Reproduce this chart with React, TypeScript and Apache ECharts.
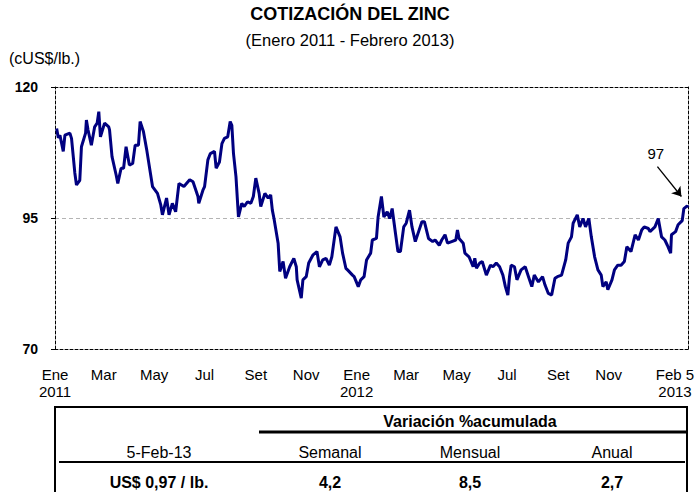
import React, { useEffect, useRef } from "react";
import * as echarts from "echarts";

const FONT = "'Liberation Sans', Arial, sans-serif";

const dates = [
  "2011-01-03","2011-01-05","2011-01-07","2011-01-11","2011-01-13","2011-01-19","2011-01-21","2011-01-25","2011-01-27","2011-01-31",
  "2011-02-02","2011-02-07","2011-02-08","2011-02-10","2011-02-14","2011-02-18","2011-02-21","2011-02-23","2011-02-25","2011-03-02",
  "2011-03-07","2011-03-08","2011-03-11","2011-03-16","2011-03-18","2011-03-22","2011-03-25","2011-03-28","2011-04-01","2011-04-05",
  "2011-04-08","2011-04-12","2011-04-14","2011-04-18","2011-04-22","2011-04-29","2011-05-05","2011-05-09","2011-05-11","2011-05-16",
  "2011-05-19","2011-05-23","2011-05-27","2011-05-31","2011-06-06","2011-06-13","2011-06-17","2011-06-23","2011-06-24","2011-06-29",
  "2011-07-01","2011-07-05","2011-07-08","2011-07-13","2011-07-15","2011-07-19","2011-07-22","2011-07-25","2011-07-29","2011-08-01",
  "2011-08-03","2011-08-05","2011-08-08","2011-08-11","2011-08-15","2011-08-18","2011-08-22","2011-08-26","2011-08-29","2011-09-01",
  "2011-09-05","2011-09-07","2011-09-12","2011-09-16","2011-09-19","2011-09-21","2011-09-23","2011-09-28","2011-09-30","2011-10-04",
  "2011-10-07","2011-10-12","2011-10-17","2011-10-20","2011-10-21","2011-10-26","2011-10-28","2011-11-01","2011-11-04","2011-11-09",
  "2011-11-14","2011-11-17","2011-11-21","2011-11-25","2011-11-29","2011-12-02","2011-12-07","2011-12-12","2011-12-15","2011-12-19",
  "2011-12-21","2011-12-27","2011-12-29","2012-01-03","2012-01-06","2012-01-10","2012-01-13","2012-01-18","2012-01-20","2012-01-25",
  "2012-01-27","2012-01-31","2012-02-03","2012-02-07","2012-02-10","2012-02-13","2012-02-17","2012-02-20","2012-02-23","2012-02-27",
  "2012-03-01","2012-03-05","2012-03-08","2012-03-12","2012-03-16","2012-03-20","2012-03-23","2012-03-28","2012-04-02","2012-04-05",
  "2012-04-10","2012-04-13","2012-04-17","2012-04-20","2012-04-25","2012-04-30","2012-05-02","2012-05-04","2012-05-09","2012-05-11",
  "2012-05-16","2012-05-21","2012-05-23","2012-05-25","2012-05-29","2012-06-01","2012-06-06","2012-06-11","2012-06-14","2012-06-18",
  "2012-06-22","2012-06-26","2012-06-29","2012-07-02","2012-07-04","2012-07-06","2012-07-10","2012-07-13","2012-07-18","2012-07-23",
  "2012-07-27","2012-07-31","2012-08-03","2012-08-08","2012-08-13","2012-08-16","2012-08-20","2012-08-24","2012-08-28","2012-08-31",
  "2012-09-05","2012-09-10","2012-09-13","2012-09-17","2012-09-19","2012-09-24","2012-09-27","2012-10-01","2012-10-04","2012-10-08",
  "2012-10-11","2012-10-15","2012-10-19","2012-10-23","2012-10-25","2012-10-29","2012-10-31","2012-11-05","2012-11-08","2012-11-12",
  "2012-11-16","2012-11-20","2012-11-23","2012-11-28","2012-12-03","2012-12-07","2012-12-11","2012-12-14","2012-12-19","2012-12-21",
  "2012-12-27","2012-12-31","2013-01-04","2013-01-08","2013-01-11","2013-01-15","2013-01-16","2013-01-21","2013-01-24","2013-01-29",
  "2013-01-31","2013-02-04","2013-02-05"
];

const values = [
  112.1,110.3,110.8,107.7,110.8,111.2,110.2,103.6,101.3,102.2,
  108.6,111.2,113.7,111.8,108.9,112.4,113.1,115.3,110.5,113.1,
  112.4,111.8,106.7,103.2,101.6,104.5,104.5,108.6,105.1,105.4,
  108.9,108.9,113.4,111.5,108.0,101.0,99.7,97.5,95.6,98.8,
  95.6,97.8,96.2,101.6,101.0,102.3,101.9,99.1,97.8,100.3,
  101.0,106.1,107.3,107.7,104.5,105.7,109.2,110.2,110.5,113.4,
  112.7,107.3,102.9,95.2,97.8,97.2,98.1,97.8,99.1,102.6,
  99.7,97.2,99.7,98.8,99.4,96.5,94.9,90.2,84.8,86.7,
  83.5,85.7,87.3,85.7,83.2,79.7,83.2,83.8,86.4,87.9,
  88.6,85.7,87.0,87.3,86.0,87.6,93.3,91.4,88.3,85.4,
  85.1,84.1,83.8,81.9,83.2,83.8,87.0,88.3,90.8,91.1,
  95.2,99.1,95.2,96.2,94.9,96.8,92.1,88.6,88.6,93.3,
  94.0,96.5,93.3,90.5,92.4,94.3,94.3,91.1,90.5,90.8,
  89.8,90.8,91.8,90.2,90.5,90.8,92.7,91.1,90.2,88.3,
  87.6,85.7,87.3,85.4,86.4,86.7,84.1,86.0,85.7,86.4,
  85.7,84.1,81.9,80.3,83.8,86.0,85.7,83.2,85.1,85.7,
  83.8,81.9,84.1,82.8,83.8,82.2,80.6,80.3,83.5,83.8,
  84.1,87.0,90.2,91.4,94.0,95.6,93.3,94.9,93.3,94.9,
  91.4,87.6,85.1,84.1,81.9,82.8,81.3,83.2,85.1,86.0,
  86.0,86.7,89.5,88.6,91.8,90.8,92.7,93.3,93.0,92.4,
  93.3,94.9,91.4,90.8,89.8,88.3,91.8,92.4,93.7,94.5,
  96.8,97.3,97.0
];

const tickDates = [
  "2011-01-01","2011-03-01","2011-05-01","2011-07-01","2011-09-01","2011-11-01",
  "2012-01-01","2012-03-01","2012-05-01","2012-07-01","2012-09-01","2012-11-01","2013-02-05"
];
const tickLabels = [
  "Ene\n2011","Mar","May","Jul","Set","Nov",
  "Ene\n2012","Mar","May","Jul","Set","Nov","Feb 5\n2013"
];

const yTicks = { min: 70, max: 120, interval: 25 };

const titleText = "COTIZACIÓN DEL ZINC";
const subtitleText = "(Enero 2011 - Febrero 2013)";
const unitText = "(cUS$/lb.)";

const tableHeader = "Variación %acumulada";
const tableDate = "5-Feb-13";
const tablePrice = "US$ 0,97 / lb.";
const periodLabels = ["Semanal", "Mensual", "Anual"];
const periodValues = ["4,2", "8,5", "2,7"];

const ts = (s: string) => +echarts.time.parse(s);

export default function App() {
  const ref = useRef<HTMLDivElement>(null);

  useEffect(() => {
    if (!ref.current) return;
    const chart = echarts.init(ref.current, undefined, { renderer: "svg" });
    const tickTs = tickDates.map(ts);
    const lastIdx = tickLabels.length - 1;
    const dashed = { color: "#000", width: 1, type: [3, 2] as any };
    const xMin = ts("2011-01-01");
    const xMax = ts("2013-02-05");

    const colX = [330, 470, 612];
    const txt = (text: string, x: number, y: number, size: number, bold: boolean) => ({
      type: "text",
      x,
      y,
      silent: true,
      style: {
        text,
        fill: "#000",
        font: `${bold ? "bold " : ""}${size}px ${FONT}`,
        align: "center",
        verticalAlign: "middle",
      },
    });
    const ln = (x1: number, y1: number, x2: number, y2: number, w: number) => ({
      type: "line",
      silent: true,
      shape: { x1, y1, x2, y2 },
      style: { stroke: "#000", lineWidth: w },
    });

    const lastValue = values[values.length - 1];

    chart.setOption({
      animation: false,
      backgroundColor: "#fff",
      title: {
        text: titleText,
        subtext: subtitleText,
        left: "center",
        top: 0,
        itemGap: 8,
        textStyle: { fontFamily: FONT, fontSize: 18, fontWeight: "bold", color: "#000" },
        subtextStyle: { fontFamily: FONT, fontSize: 16.5, color: "#000" },
      },
      grid: { left: 55, right: 12, top: 87, bottom: 143, containLabel: false, outerBoundsMode: "none" },
      xAxis: [
        {
          type: "value",
          min: xMin,
          max: xMax,
          axisLine: { show: true, onZero: false, lineStyle: dashed },
          axisTick: { show: false },
          splitLine: { show: false },
          axisLabel: {
            customValues: tickTs,
            color: "#000",
            fontFamily: FONT,
            fontSize: 15,
            lineHeight: 17,
            margin: 17,
            formatter: (v: number) => {
              const i = tickTs.indexOf(v);
              if (i < 0) return "";
              if (i === lastIdx) {
                return tickLabels[i]
                  .split("\n")
                  .map((s) => `{e|${s}}`)
                  .join("\n");
              }
              return tickLabels[i];
            },
            rich: {
              e: { fontFamily: FONT, fontSize: 15, lineHeight: 17, color: "#000", padding: [0, 26, 0, 0] },
            },
          },
        },
        {
          type: "value",
          position: "top",
          min: xMin,
          max: xMax,
          axisLine: { show: true, onZero: false, lineStyle: dashed },
          axisTick: { show: false },
          axisLabel: { show: false },
          splitLine: { show: false },
        },
      ],
      yAxis: [
        {
          type: "value",
          min: yTicks.min,
          max: yTicks.max,
          interval: yTicks.interval,
          axisLine: { show: true, onZero: false, lineStyle: dashed },
          axisTick: { show: true, length: 4, lineStyle: { color: "#000" } },
          axisLabel: { color: "#000", fontFamily: FONT, fontSize: 14, fontWeight: "bold", margin: 17 },
          splitLine: {
            show: true,
            showMinLine: false,
            showMaxLine: false,
            lineStyle: { color: "#b4b4b4", type: [4, 3], width: 1 },
          },
        },
        {
          type: "value",
          position: "right",
          min: yTicks.min,
          max: yTicks.max,
          interval: yTicks.interval,
          axisLine: { show: true, onZero: false, lineStyle: dashed },
          axisTick: { show: false },
          axisLabel: { show: false },
          splitLine: { show: false },
        },
      ],
      series: [
        {
          type: "line",
          xAxisIndex: 0,
          yAxisIndex: 0,
          data: dates.map((d, i) => [ts(d), values[i]]),
          showSymbol: false,
          symbol: "none",
          lineStyle: { color: "#000080", width: 3 },
          itemStyle: { color: "#000080" },
          silent: true,
          markLine: {
            silent: true,
            symbol: ["none", "arrow"],
            symbolSize: 9,
            label: { show: false },
            lineStyle: { color: "#000", width: 1.3, type: "solid" },
            data: [
              [
                { coord: [ts("2012-12-30"), 104.8] },
                { coord: [ts("2013-01-28"), 99.1] },
              ],
            ],
          },
          markPoint: {
            silent: true,
            symbol: "circle",
            symbolSize: 0,
            data: [{ coord: [ts("2012-12-28"), 107.4], value: Math.round(lastValue) }],
            label: { show: true, formatter: "{c}", color: "#000", fontFamily: FONT, fontSize: 15 },
          },
        },
      ],
      graphic: [
        {
          type: "text",
          x: 9,
          y: 58,
          silent: true,
          style: { text: unitText, fill: "#000", font: `16px ${FONT}`, align: "left", verticalAlign: "middle" },
        },
        ln(55, 407, 55, 492, 2),
        ln(687, 407, 687, 492, 2),
        ln(54, 407, 688, 407, 2),
        ln(259, 432, 687, 432, 3),
        ln(59, 462, 685, 462, 2),
        txt(tableHeader, 470, 421, 16, true),
        txt(tableDate, 159, 452, 16, false),
        ...periodLabels.map((p, i) => txt(p, colX[i], 452, 16, false)),
        txt(tablePrice, 159, 482, 16, true),
        ...periodValues.map((p, i) => txt(p, colX[i], 482, 16, true)),
      ],
    });

    return () => chart.dispose();
  }, []);

  return (
    <div
      ref={ref}
      style={{ position: "absolute", left: 0, top: 0, width: 700, height: 492 }}
    />
  );
}
